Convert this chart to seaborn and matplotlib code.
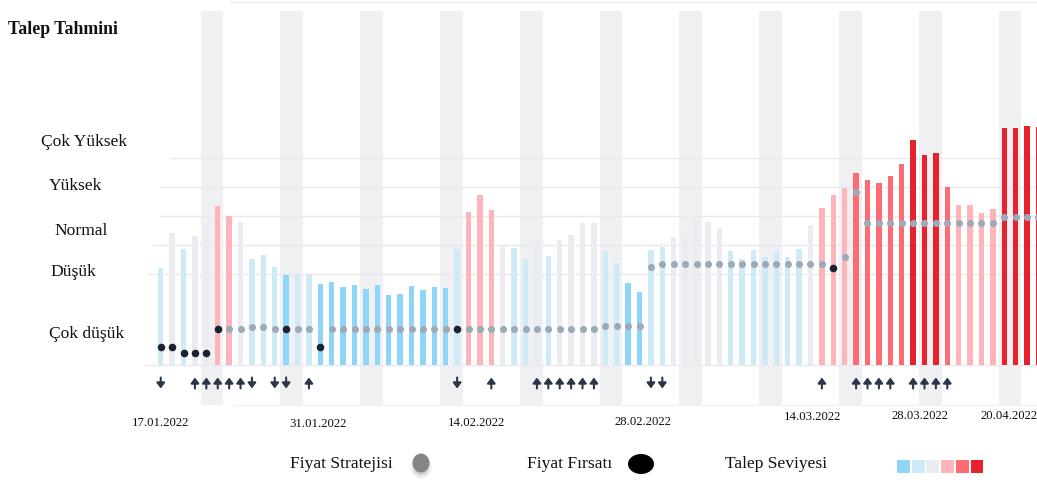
import numpy as np
import pandas as pd
import matplotlib
matplotlib.use("Agg")
import matplotlib.pyplot as plt
from matplotlib.patches import Ellipse, Rectangle
from matplotlib.lines import Line2D
import seaborn as sns

# Daily demand index (bar height) and demand class (0 = very low ... 5 = very high)
demand = [97.3, 131.7, 116, 129.3, 141.7, 159, 149, 143, 106, 109.7,
          98.3, 90.3, 90.7, 91, 80.7, 83.5, 77.7, 79.7, 75.7, 80,
          70, 71, 78.7, 75, 77.7, 77.3, 116, 152.7, 170, 155,
          119.3, 116.7, 105.7, 124, 109, 125, 130, 142.3, 141.7, 114.3,
          101.7, 82.3, 72.7, 115, 118.3, 128.3, 126.7, 145, 143.3, 137.5,
          114, 105.7, 115, 108.3, 114, 107.7, 115.7, 140, 157.3, 169.7,
          176.7, 192.3, 185, 182.3, 189, 201, 225, 209.7, 212.3, 178.3,
          159.7, 159.7, 151.7, 156, 236.7, 236.7, 239, 238.3]
level = [1, 2, 1, 2, 2, 3, 3, 2, 1, 1,
         1, 0, 1, 1, 0, 0, 0, 0, 0, 0,
         0, 0, 0, 0, 0, 0, 1, 3, 3, 3,
         2, 1, 1, 2, 1, 2, 2, 2, 2, 1,
         1, 0, 0, 1, 1, 2, 2, 2, 2, 2,
         1, 1, 1, 1, 1, 1, 1, 2, 3, 3,
         3, 4, 4, 4, 4, 4, 5, 5, 5, 4,
         3, 3, 3, 3, 5, 5, 5, 5]
# Price strategy position per day
price = [18, 18, 12.3, 12.3, 12.3, 35.7, 35.7, 35.7, 38.3, 38.3,
         35.7, 35.7, 35.7, 35.7, 18.3, 35.7, 35.7, 35.7, 35.7, 35.7,
         35.7, 35.7, 35.7, 35.7, 35.7, 35.7, 35.7, 35.7, 35.7, 35.7,
         35.7, 35.7, 35.7, 35.7, 35.7, 35.7, 35.7, 35.7, 35.7, 39,
         39, 39, 39, 97.7, 101, 101, 101, 101, 101, 101,
         101, 101, 101, 101, 101, 101, 101, 101, 101, 97.3,
         108.3, 172.7, 142.3, 142.3, 142.3, 142.3, 142.3, 142.3, 142.3, 142.3,
         142.3, 142.3, 142.3, 142.3, 148.3, 148.3, 148.3, 148.3]
# Days flagged as a price opportunity
opportunity_days = [0, 1, 2, 3, 4, 5, 11, 14, 26, 59]
# Price movement signals
up_days = [3, 4, 5, 6, 7, 13, 29, 33, 34, 35, 36, 37, 38, 58, 61, 62, 63, 64,
           66, 67, 68, 69]
down_days = [0, 8, 10, 11, 26, 43, 44]
# Weekend days (first day of each pair)
weekend_start = [4, 11, 18, 25, 32, 39, 46, 53, 60, 67, 74]

level_names = ["Çok düşük", "Düşük", "Normal", "Yüksek", "Çok Yüksek"]
level_heights = [31, 93, 134, 179, 223]
date_labels = ["17.01.2022", "31.01.2022", "14.02.2022", "28.02.2022",
               "14.03.2022", "28.03.2022", "20.04.2022"]
date_pos = [0, 13.8, 27.7, 42.3, 57.2, 66.6, 74.4]
date_y = [-57.7, -59, -57.7, -56.7, -52.3, -51, -51]

palette = ["#8fd5fa", "#cfeaf7", "#ebecf1", "#ffb4b9", "#ff6b73", "#e8222d"]

sns.set_theme(style="white")
plt.rcParams["font.family"] = ["Liberation Serif", "DejaVu Serif"]

W, H = 1037, 480
fig = plt.figure(figsize=(W / 100, H / 100), dpi=100)
ax = fig.add_axes([140 / W, 75 / H, 897 / W, 394 / H])

n = len(demand)
df = pd.DataFrame({"day": np.arange(n), "demand": demand, "level": level,
                   "price": price})
df["opportunity"] = df["day"].isin(opportunity_days)

# weekend shading
for d in weekend_start:
    ax.axvspan(d - 0.5, d + 1.5, color="#eff0f2", lw=0, zorder=0)

# horizontal guide lines
x0 = lambda px: (px - 160.7) / 11.4
for h, start in zip([207, 178, 149, 120, 91, 0], [170, 160, 160, 153, 148, 145]):
    ax.hlines(h, x0(start), 80, color="#e9eaf0", lw=1, zorder=0.5)

sns.barplot(data=df, x="day", y="demand", hue="level", palette=palette,
            native_scale=True, dodge=False, width=0.48, legend=False,
            saturation=1, linewidth=0, edgecolor="none", ax=ax, zorder=2)

sns.scatterplot(data=df[~df["opportunity"]], x="day", y="price", color="#9eaab8",
                s=26, linewidth=0, ax=ax, zorder=4, legend=False)
sns.scatterplot(data=df[df["opportunity"]], x="day", y="price", color="#1b2230",
                s=30, linewidth=0, ax=ax, zorder=5, legend=False)

arrow_kw = dict(arrowstyle="-|>,head_length=0.32,head_width=0.24",
                color="#2c3647", lw=1.5, shrinkA=0, shrinkB=0, mutation_scale=10)
for d in up_days:
    ax.annotate("", xy=(d, -12.5), xytext=(d, -23.5), arrowprops=arrow_kw, zorder=6)
for d in down_days:
    ax.annotate("", xy=(d, -23.5), xytext=(d, -12.5), arrowprops=arrow_kw, zorder=6)

ax.set_xlim(-1.82, 76.87)
ax.set_ylim(-40, 354)
ax.set_xticks([])
ax.set_yticks([])
ax.set_xlabel("")
ax.set_ylabel("")
for s in ax.spines.values():
    s.set_visible(False)

for lab, xp, yp in zip(date_labels, date_pos, date_y):
    ax.text(xp, yp, lab, ha="center", va="center", fontsize=9.2,
            color="#111111", clip_on=False)

# overlay in pixel coordinates for titles and legend
ov = fig.add_axes([0, 0, 1, 1], zorder=10)
ov.set_xlim(0, W)
ov.set_ylim(H, 0)
ov.axis("off")
ov.patch.set_alpha(0)

ov.add_line(Line2D([230, W], [1.5, 1.5], color="#ececec", lw=1))
ov.add_line(Line2D([233, W], [405, 405], color="#f0f1f4", lw=1))

ov.text(8, 30, "Talep Tahmini", fontsize=12.8, fontweight="bold",
        ha="left", va="center", color="#111111")

for lab, h, left in zip(level_names, level_heights, [49.3, 50.7, 54.3, 49.3, 40.7]):
    ov.text(left, 365 - h, lab, fontsize=12.6, ha="left", va="center",
            color="#111111")

ov.text(290, 464, "Fiyat Stratejisi", fontsize=12.6, ha="left", va="center",
        color="#111111")
for k, a in enumerate([0.05, 0.07, 0.09, 0.12]):
    ov.add_patch(Ellipse((421, 467), 22 - 3 * k, 24 - 3 * k, color="#555555",
                         alpha=a, lw=0))
ov.add_patch(Ellipse((421, 463), 17, 19, color="#858585", lw=0))

ov.text(527, 464, "Fiyat Fırsatı", fontsize=12.6, ha="left", va="center",
        color="#111111")
ov.add_patch(Ellipse((641, 464), 26, 20, color="#000000", lw=0))

ov.text(725, 464, "Talep Seviyesi", fontsize=12.6, ha="left", va="center",
        color="#111111")
for k, c in enumerate(palette):
    ov.add_patch(Rectangle((897 + k * 14.7, 460), 12.8, 13, color=c, lw=0))

fig.savefig("out.png", dpi=100)
